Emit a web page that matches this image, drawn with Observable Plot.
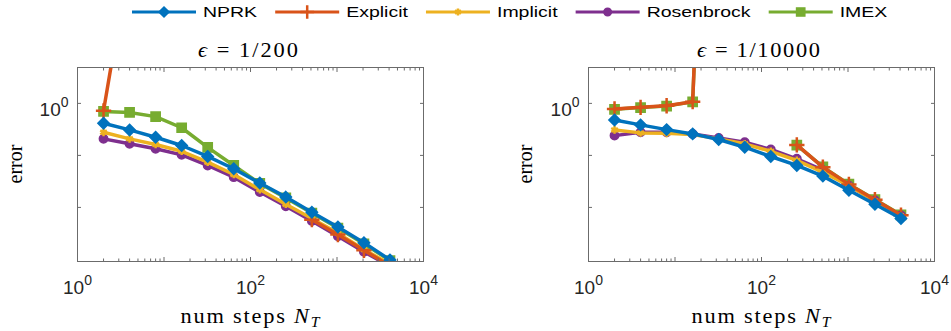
<!DOCTYPE html>
<html><head><meta charset="utf-8">
<script src="https://cdn.jsdelivr.net/npm/d3@7"></script>
<script src="https://cdn.jsdelivr.net/npm/@observablehq/plot@0.6"></script>
<style>
body{margin:0;background:#fff;}
#wrap{width:951px;height:331px;position:relative;overflow:hidden;background:#fff;}
#legend{display:block;}
#row{display:flex;}
#row svg{display:block;}
</style></head><body>
<div id="wrap"><svg id="legend" width="951" height="22"></svg><div id="row"></div></div>
<script>
// ---------- data ----------
const steps = [2, 4, 8, 16, 32, 64, 128, 256, 512, 1024, 2048, 4096];
const methods = ["NPRK", "Explicit", "Implicit", "Rosenbrock", "IMEX"];
const colors = ["#0072BD", "#D95319", "#EDB120", "#7E2F8E", "#77AC30"];
const panelEps = ["1/200", "1/10000"];
const xTickLabelValues = [1, 100, 10000];
const yTickLabelValues = [1];

// epsilon = 1/200
const nprkA       = [0.414, 0.309, 0.223, 0.155, 0.0955, 0.0553, 0.0295, 0.0158, 0.0081, 0.0042, 0.0021, 0.00098];
const explicitA   = [0.72, 650, null, null, null, null, null, null, 0.0058, 0.0030, 0.0015, 0.00075];
const implicitA   = [0.278, 0.208, 0.162, 0.12, 0.074, 0.043, 0.022, 0.0115, 0.0061, 0.0032, 0.00155, 0.00081];
const rosenbrockA = [0.208, 0.167, 0.134, 0.1025, 0.064, 0.0382, 0.0197, 0.0105, 0.0055, 0.0028, 0.0014, 0.00074];
const imexA       = [0.70, 0.67, 0.556, 0.34, 0.143, 0.064, 0.029, 0.0152, 0.0078, 0.0040, 0.0020, 0.00095];

// epsilon = 1/10000
const nprkB       = [0.481, 0.386, 0.313, 0.259, 0.202, 0.1436, 0.0953, 0.0641, 0.040, 0.0213, 0.0115, 0.0061];
const explicitB   = [0.78, 0.84, 0.90, 1.08, 1e12, null, null, 0.159, 0.0594, 0.0277, 0.0141, 0.0071];
const implicitB   = [0.309, 0.271, 0.266, 0.251, 0.208, 0.167, 0.120, 0.080, 0.0478, 0.0265, 0.0133, 0.0068];
const rosenbrockB = [0.240, 0.278, 0.278, 0.259, 0.217, 0.179, 0.130, 0.086, 0.052, 0.0262, 0.0136, 0.0070];
const imexB       = [0.77, 0.83, 0.89, 1.07, 1e12, null, null, 0.158, 0.0600, 0.0280, 0.0142, 0.0072];

const seriesA = [nprkA, explicitA, implicitA, rosenbrockA, imexA];
const seriesB = [nprkB, explicitB, implicitB, rosenbrockB, imexB];

// ---------- styles ----------
const plotSymbols = ["diamond2", "plus", "asterisk", "circle", "square"];
const d3Symbols = [d3.symbolDiamond2, d3.symbolPlus, d3.symbolAsterisk, d3.symbolCircle, d3.symbolSquare];
const markerR = [5.1, 5, 3.6, 4.2, 5.2];
const filled = [true, false, false, true, true];
const drawOrder = [4, 3, 2, 1, 0];
const axisColor = "#6b6b6b";
const textColor = "#262626";
const serif = "'Liberation Serif', 'DejaVu Serif', serif";
const sans = "'Liberation Sans', Arial, sans-serif";

const majorX = [1, 10, 100, 1000, 10000];
const minorX = [1, 10, 100, 1000].flatMap(d => [2,3,4,5,6,7,8,9].map(k => k * d));
const majorY = [1, 0.1, 0.01];

function rowsFor(series) {
  const out = [];
  series.forEach((vals, m) => vals.forEach((v, j) => out.push({method: methods[m], x: steps[j], y: v == null ? NaN : v})));
  return out;
}

function makePanel(series, width, ml, mr) {
  const rows = rowsFor(series);
  const marks = [];
  for (const m of drawOrder) {
    const d = rows.filter(r => r.method === methods[m]);
    marks.push(Plot.line(d, {x: "x", y: "y", stroke: colors[m], strokeWidth: 3.5, clip: true}));
    marks.push(Plot.dot(d, {x: "x", y: "y", symbol: plotSymbols[m], r: markerR[m],
      fill: filled[m] ? colors[m] : "none", stroke: colors[m], strokeWidth: filled[m] ? 1.5 : 2.5, clip: true}));
  }
  const blank = () => "";
  const ex = d => "10^" + Math.round(Math.log10(d));
  return Plot.plot({
    width, height: 309, marginTop: 45, marginBottom: 70, marginLeft: ml, marginRight: mr,
    style: {fontFamily: sans, fontSize: "19px", color: textColor, background: "white", overflow: "visible"},
    x: {type: "log", domain: [1, 1e4]},
    y: {type: "log", domain: [Math.pow(10, -3.04), Math.pow(10, 0.69)]},
    marks: [
      ...marks,
      Plot.frame({stroke: axisColor, strokeWidth: 1}),
      Plot.axisX(majorX, {anchor: "bottom", tickSize: -4, tickFormat: blank, label: null, stroke: axisColor}),
      Plot.axisX(minorX, {anchor: "bottom", tickSize: -2.5, tickFormat: blank, label: null, stroke: axisColor}),
      Plot.axisX(majorX, {anchor: "top", tickSize: -4, tickFormat: blank, label: null, stroke: axisColor}),
      Plot.axisX(minorX, {anchor: "top", tickSize: -2.5, tickFormat: blank, label: null, stroke: axisColor}),
      Plot.axisX(xTickLabelValues, {anchor: "bottom", tickSize: 0, tickPadding: 0, tickFormat: ex, label: null, fill: textColor}),
      Plot.axisY(majorY, {anchor: "left", tickSize: -4, tickFormat: blank, label: null, stroke: axisColor}),
      Plot.axisY(majorY, {anchor: "right", tickSize: -4, tickFormat: blank, label: null, stroke: axisColor}),
      Plot.axisY(yTickLabelValues, {anchor: "left", tickSize: 0, tickPadding: 9, tickFormat: ex, label: null, fill: textColor, textAnchor: "end"})
    ]
  });
}

function fixTickLabels(svg) {
  d3.select(svg).selectAll("text").each(function() {
    const s = this.textContent;
    if (!s.includes("^")) return;
    const [b, e] = s.split("^");
    const p = this.parentNode && this.parentNode.getAttribute ? (this.parentNode.getAttribute("aria-label") || "") : "";
    const isY = p.indexOf("y-axis") >= 0;
    const t = d3.select(this);
    t.text(b).attr("font-size", 19).attr("font-family", sans).attr("fill", textColor);
    t.append("tspan").attr("font-size", 14).attr("dy", -9).text(e);
    t.attr("dy", isY ? 7 : 19);
  });
}

// fit a text to a target width: mild horizontal scale plus letter spacing
function fitted(parent, x, y, targetW, build) {
  const g = parent.append("g");
  const t = g.append("text").attr("text-anchor", "middle").attr("fill", "#000");
  build(t);
  const sx = 1.12;
  const w = t.node().getComputedTextLength();
  const pre = targetW / sx;
  if (w > 0 && w < pre) t.attr("textLength", pre).attr("lengthAdjust", "spacing");
  g.attr("transform", `translate(${x},${y}) scale(${sx},1)`);
  return g;
}

function decorate(svg, epsText, titleCx, titleW, ylabX, xlabCx) {
  const s = d3.select(svg);
  fitted(s, titleCx, 35, titleW, t => {
    t.attr("font-family", serif).attr("font-size", 20);
    t.append("tspan").attr("font-style", "italic").text("\u03F5");
    t.append("tspan").text(" = " + epsText);
  });
  s.append("text").attr("transform", `translate(${ylabX},142) rotate(-90)`)
    .attr("text-anchor", "middle").attr("font-family", serif).attr("font-size", 20).attr("fill", "#000").text("error");
  fitted(s, xlabCx, 301, 139, t => {
    t.attr("font-family", serif).attr("font-size", 20);
    t.append("tspan").text("num steps ");
    t.append("tspan").attr("font-style", "italic").text("N");
    t.append("tspan").attr("font-style", "italic").attr("font-size", 14).attr("dy", 4).text("T");
  });
}

const row = document.getElementById("row");
const pA = makePanel(seriesA, 475, 77, 52);
const pB = makePanel(seriesB, 476, 113, 17);
row.appendChild(pA);
row.appendChild(pB);
fixTickLabels(pA);
fixTickLabels(pB);
decorate(pA, panelEps[0], 248, 100, 22, 250);
decorate(pB, panelEps[1], 283.5, 123, 56.5, 286);

// ---------- legend ----------
const lg = d3.select("#legend");
let lx = 132;
const ly = 12;
methods.forEach((m, i) => {
  const g = lg.append("g");
  g.append("line").attr("x1", lx).attr("x2", lx + 64).attr("y1", ly).attr("y2", ly)
    .attr("stroke", colors[i]).attr("stroke-width", 3.2);
  g.append("path").attr("d", d3.symbol(d3Symbols[i], Math.PI * markerR[i] * markerR[i] * 0.8)())
    .attr("transform", `translate(${lx + 32},${ly})`)
    .attr("fill", filled[i] ? colors[i] : "none").attr("stroke", colors[i])
    .attr("stroke-width", filled[i] ? 1.5 : 2.5);
  const t = g.append("text").attr("font-family", sans).attr("font-size", 15).attr("fill", "#000").text(m);
  const w = t.node().getComputedTextLength();
  t.attr("transform", `translate(${lx + 71},17.3) scale(1.3,1)`);
  lx += 64 + 7 + w * 1.3 + 18;
});
</script>
</body></html>
